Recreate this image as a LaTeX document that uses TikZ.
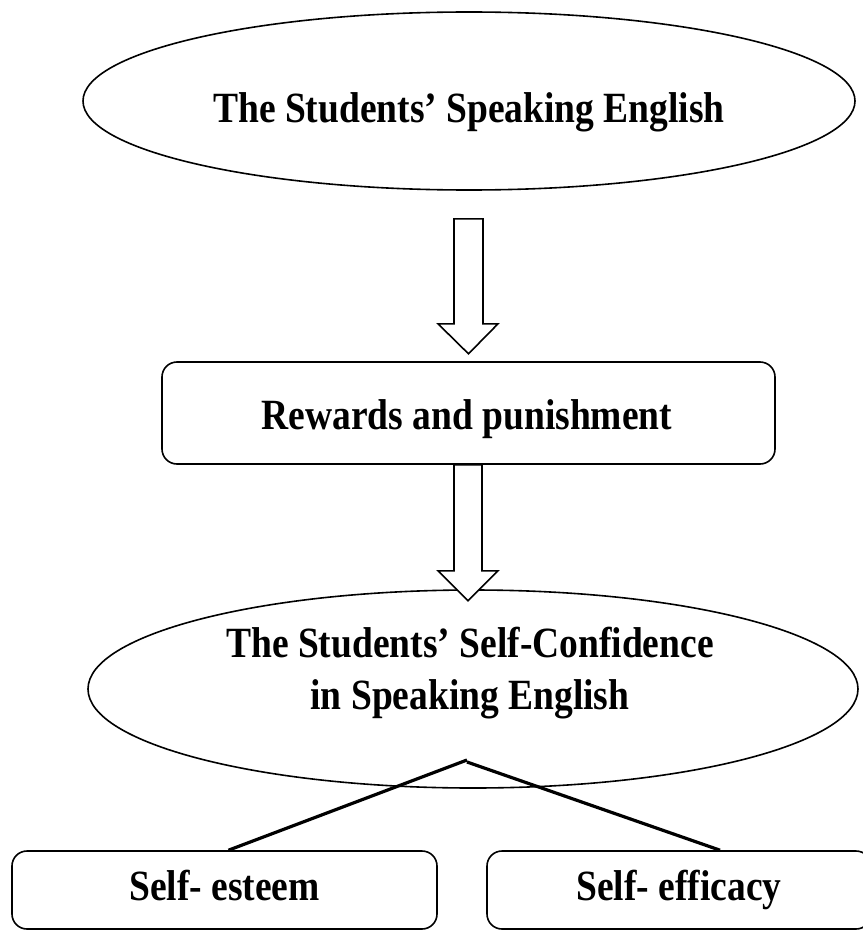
\documentclass[tikz,border=0pt]{standalone}
\usepackage{fontspec}
\usepackage{graphicx}
\setmainfont{Liberation Serif}
\usetikzlibrary{shapes.geometric,calc}

\newcommand{\tallbold}[1]{\scalebox{1}[1.15]{\begin{tabular}{@{}c@{}}#1\end{tabular}}}

\tikzset{
    oval/.style={draw, ellipse, line width=1.6pt, inner sep=0pt},
    roundbox/.style={draw, rounded corners=15pt, line width=1.6pt, inner sep=0pt},
    blockarrow/.style={draw, line width=1.6pt, fill=white, line join=miter},
    branch/.style={line width=3.2pt},
    boldtext/.style={font=\fontsize{37.5}{45}\selectfont\bfseries, inner sep=0pt}
}

\begin{document}
\begin{tikzpicture}[x=1pt, y=-1pt]
    \useasboundingbox (0,0) rectangle (862,931);

    % Ellisse superiore
    \node[oval, minimum width=772pt, minimum height=178pt] (speaking) at (469,101) {};
    \node[boldtext] (speakingtext) at (469,112) {\tallbold{The Students’ Speaking English}};

    % Rettangolo centrale
    \node[roundbox, minimum width=613pt, minimum height=102pt] (rewards) at (468.5,413) {};
    \node[boldtext] (rewardstext) at (467,419) {\tallbold{Rewards and punishment}};

    % Ellisse inferiore
    \node[oval, minimum width=770pt, minimum height=198pt] (confidence) at (473,689) {};
    \node[boldtext] (confidencetext) at (470,673) {\tallbold{The Students’ Self-Confidence\\in Speaking English}};

    % Rettangoli in basso
    \node[roundbox, boldtext, minimum width=425pt, minimum height=78pt] (esteem) at (224.5,890) {\tallbold{Self- esteem}};
    \node[roundbox, boldtext, minimum width=384pt, minimum height=78pt] (efficacy) at (679,890) {\tallbold{Self- efficacy}};

    % Frecce
    \draw[blockarrow] ($(speaking.south)+(-15,28)$) -- ++(29,0) -- ++(0,105) -- ++(15,0)
        -- ++(-29.5,30) -- ++(-30.5,-30) -- ++(16,0) -- cycle;
    \draw[blockarrow] ($(rewards.south)+(-14.5,0)$) -- ++(28,0) -- ++(0,106) -- ++(16,0)
        -- ++(-30,30) -- ++(-30,-30) -- ++(16,0) -- cycle;

    % Linee verso i rettangoli
    \coordinate (apex) at (467,760);
    \draw[branch] (esteem.north) ++(4,0) -- (apex);
    \draw[branch] ($(apex)+(0,2)$) -- ($(efficacy.north)+(41,0)$);
\end{tikzpicture}
\end{document}
